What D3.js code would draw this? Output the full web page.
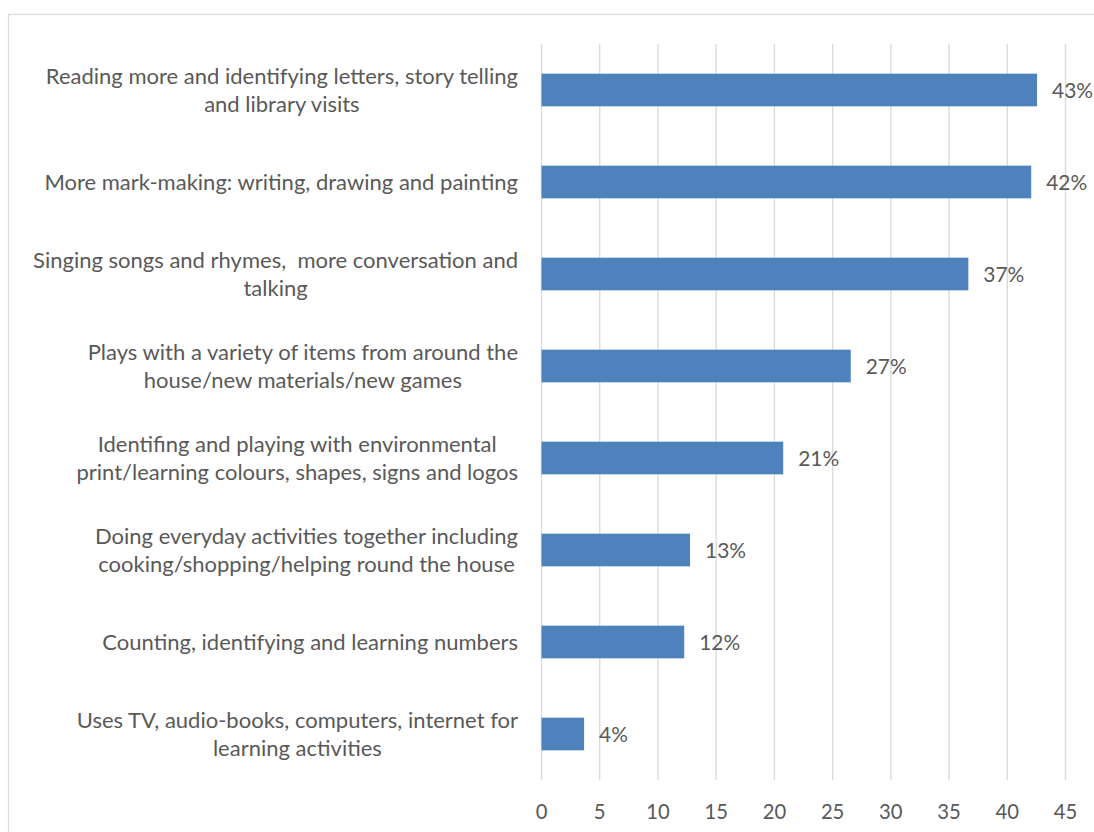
<!DOCTYPE html>
<html>
<head>
<meta charset="utf-8">
<script src="https://cdn.jsdelivr.net/npm/d3@7"></script>
<style>
  html, body { margin: 0; padding: 0; background: #ffffff; }
  svg { display: block; }
  text { font-family: Lato, "Open Sans", sans-serif; fill: #595959; white-space: pre; }
</style>
</head>
<body>
<svg id="chart" width="1094" height="832"></svg>
<script>
// ---- data ----
const categories = [
  "Reading more and identifying letters, story telling\nand library visits",
  "More mark-making: writing, drawing and painting",
  "Singing songs and rhymes,  more conversation and\ntalking",
  "Plays with a variety of items from around the\nhouse/new materials/new games",
  "Identifing and playing with environmental\nprint/learning colours, shapes, signs and logos",
  "Doing everyday activities together including\ncooking/shopping/helping round the house",
  "Counting, identifying and learning numbers",
  "Uses TV, audio-books, computers, internet for\nlearning activities"
];
const values = [42.6, 42.1, 36.7, 26.6, 20.8, 12.8, 12.3, 3.7];
const valueLabels = ["43%", "42%", "37%", "27%", "21%", "13%", "12%", "4%"];
const xTicks = [0, 5, 10, 15, 20, 25, 30, 35, 40, 45];

// ---- layout ----
const W = 1094, H = 832;
const svg = d3.select("#chart");

// fit category font so the widest single line matches the reference width
const probe = svg.append("text").attr("font-size", 20).text("More mark-making: writing, drawing and painting");
const probeW = probe.node().getComputedTextLength();
probe.remove();
const catFont = Math.max(16, Math.min(22, 20 * 483 / probeW));
const valFont = catFont * 0.95;
const tickFont = catFont * 0.92;

// chart border
svg.append("rect")
  .attr("x", 8.5).attr("y", 14.5)
  .attr("width", W + 10).attr("height", H + 10)
  .attr("fill", "none").attr("stroke", "#d9d9d9").attr("stroke-width", 1.2);

const x = d3.scaleLinear().domain([0, 45]).range([541, 1065]);
const y = d3.scaleBand().domain(d3.range(categories.length))
  .range([44, 780]).paddingInner(0.645).paddingOuter(0.3225);

// gridlines + tick labels
const xAxis = d3.axisBottom(x).tickValues(xTicks).tickSize(-(780 - 44)).tickPadding(12).tickFormat(d3.format("d"));
const gx = svg.append("g").attr("transform", "translate(0,780)").call(xAxis);
gx.select(".domain").remove();
gx.selectAll(".tick line").attr("stroke", "#d9d9d9").attr("stroke-width", 1.3);
gx.selectAll(".tick text")
  .attr("font-size", tickFont)
  .attr("font-family", "Lato, 'Open Sans', sans-serif")
  .attr("fill", "#595959")
  .attr("dy", "0.71em")
  .attr("y", 25);

// bars
svg.append("g").selectAll("rect").data(values).join("rect")
  .attr("x", x(0) + 0.5)
  .attr("y", (d, i) => y(i))
  .attr("width", d => x(d) - x(0) - 0.5)
  .attr("height", y.bandwidth())
  .attr("fill", "#4f81bd");

// value labels
svg.append("g").selectAll("text").data(values).join("text")
  .attr("x", d => x(d) + 15)
  .attr("y", (d, i) => y(i) + y.bandwidth() / 2)
  .attr("dy", "0.37em")
  .attr("font-size", valFont)
  .text((d, i) => valueLabels[i]);

// category labels: block right-aligned, lines centred within block
const labelRight = 518;
const lineGap = 28;
const gl = svg.append("g");
categories.forEach((c, i) => {
  const lines = c.split("\n");
  const cy = y(i) + y.bandwidth() / 2;
  const t = gl.append("text").attr("font-size", catFont).attr("text-anchor", "middle");
  const spans = lines.map((ln, k) => t.append("tspan")
    .attr("y", cy + (k - (lines.length - 1) / 2) * lineGap)
    .attr("dy", "0.35em")
    .text(ln));
  const maxW = d3.max(spans, s => s.node().getComputedTextLength());
  spans.forEach(s => s.attr("x", labelRight - maxW / 2));
});
</script>
</body>
</html>
